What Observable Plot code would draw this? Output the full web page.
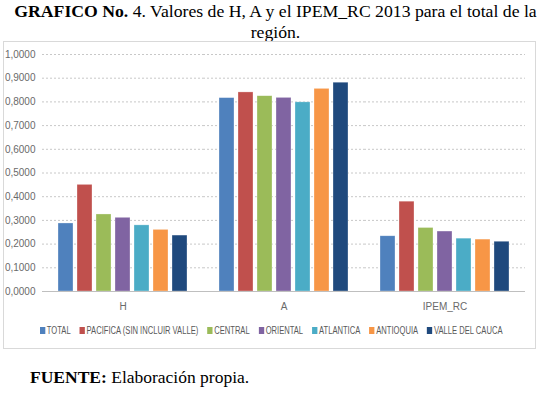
<!DOCTYPE html>
<html>
<head>
<meta charset="utf-8">
<script src="https://cdn.jsdelivr.net/npm/d3@7"></script>
<script src="https://cdn.jsdelivr.net/npm/@observablehq/plot@0.6"></script>
<style>
  body { margin: 0; width: 551px; height: 394px; background: #fff; position: relative; overflow: hidden; }
  #title { position: absolute; left: 0; top: 1px; width: 551px; text-align: center; font-family: "Liberation Serif", "DejaVu Serif", serif; font-size: 17.7px; line-height: 21px; color: #000; }
  #frame { position: absolute; left: 3px; top: 41px; width: 533px; height: 308px; border: 1px solid #d9d9d9; box-sizing: border-box; }
  #chart { position: absolute; left: 3px; top: 41px; }
  #legend { position: absolute; top: 325px; left: 40px; width: max-content; display: flex; gap: 12px; font-family: "Liberation Sans", sans-serif; font-size: 10px; color: #595959; white-space: nowrap; transform: scaleX(0.76); transform-origin: 0 0; }
  #legend .it { display: flex; align-items: center; flex: none; }
  #legend .sw { width: 7px; height: 7px; margin-right: 2px; }
  #source { position: absolute; left: 30px; top: 367px; font-family: "Liberation Serif", "DejaVu Serif", serif; font-size: 17.5px; color: #000; }
</style>
</head>
<body>
<div id="title"><b>GRAFICO No.</b> 4. Valores de H, A y el IPEM_RC 2013 para el total de la<br>región.</div>
<div id="frame"></div>
<div id="chart"></div>
<div id="legend"></div>
<div id="source"><b>FUENTE:</b> Elaboración propia.</div>
<script>
const indicators = ["H", "A", "IPEM_RC"];
const regions = ["TOTAL", "PACIFICA (SIN INCLUIR VALLE)", "CENTRAL", "ORIENTAL", "ATLANTICA", "ANTIOQUIA", "VALLE DEL CAUCA"];
const valuesH = [0.287, 0.450, 0.325, 0.311, 0.279, 0.260, 0.236];
const valuesA = [0.816, 0.840, 0.824, 0.817, 0.798, 0.855, 0.881];
const valuesIPEM = [0.233, 0.379, 0.268, 0.253, 0.223, 0.219, 0.210];
const yTicks = [0, 0.1, 0.2, 0.3, 0.4, 0.5, 0.6, 0.7, 0.8, 0.9, 1.0];
const colors = ["#4f81bd", "#c0504d", "#9bbb59", "#8064a2", "#4bacc6", "#f79646", "#1f497d"];

const series = [valuesH, valuesA, valuesIPEM];
const data = [];
indicators.forEach((ind, i) => regions.forEach((r, j) => data.push({ind, region: r, value: series[i][j]})));

const fmt = d => d.toFixed(4).replace(".", ",");

const chart = Plot.plot({
  width: 533,
  height: 276,
  marginTop: 13,
  marginBottom: 26,
  marginLeft: 39,
  marginRight: 11,
  style: {fontFamily: "'Liberation Sans', sans-serif", fontSize: "10px", color: "#6a6a6a", background: "transparent"},
  fx: {domain: indicators, paddingInner: 0, paddingOuter: 0, label: null, axis: "bottom", tickSize: 0, tickPadding: 11},
  x: {domain: regions, paddingInner: 0.2, paddingOuter: 0.835, axis: null},
  y: {domain: [0, 1], ticks: yTicks, tickFormat: fmt, tickSize: 0, tickPadding: 7, label: null},
  color: {domain: regions, range: colors},
  marks: [
    Plot.gridY(yTicks.filter(d => d > 0), {stroke: "#c8c8c8", strokeOpacity: 1, strokeDasharray: "2,2"}),
    Plot.barY(data, {fx: "ind", x: "region", y: "value", fill: "region", stroke: "#ffffff", strokeOpacity: 0.5, strokeWidth: 0.6}),
    Plot.ruleY([0], {stroke: "#bfbfbf"})
  ]
});
document.getElementById("chart").append(chart);

const leg = document.getElementById("legend");
regions.forEach((r, j) => {
  const it = document.createElement("div");
  it.className = "it";
  const sw = document.createElement("span");
  sw.className = "sw";
  sw.style.background = colors[j];
  it.append(sw, document.createTextNode(r));
  leg.append(it);
});
</script>
</body>
</html>
